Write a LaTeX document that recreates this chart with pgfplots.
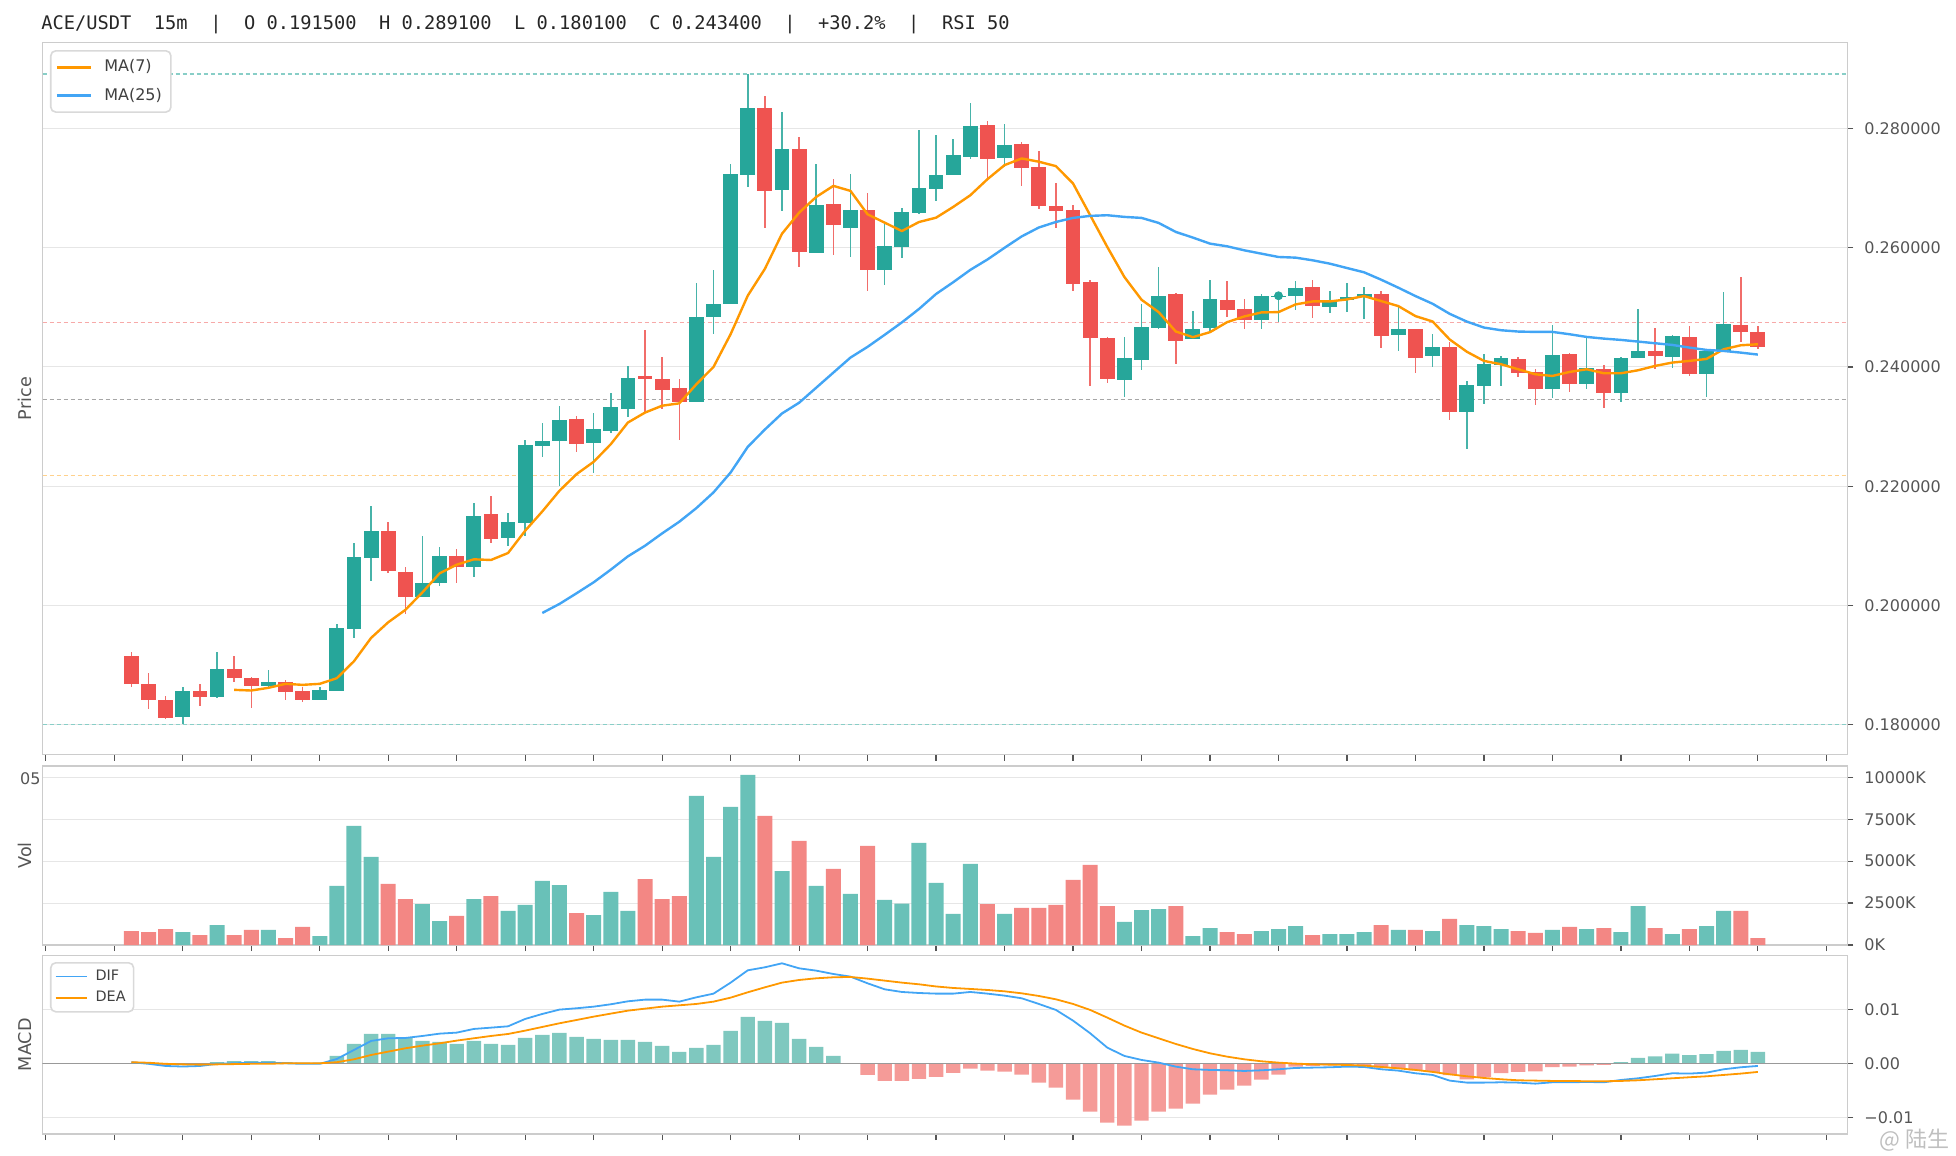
\documentclass[border=0pt]{standalone}
\usepackage{fontspec}
\setmainfont{DejaVu Sans}
\newfontfamily\monofont{DejaVu Sans Mono}
\newfontfamily\cjk{Noto Sans CJK SC}
\usepackage{pgfplots}
\usepackage{pgfplotstable}
\pgfplotsset{compat=1.18}

\definecolor{candleup}{HTML}{26A69A}
\definecolor{candledn}{HTML}{EF5350}
\definecolor{maseven}{HTML}{FF9800}
\definecolor{mablue}{HTML}{42A5F5}
\definecolor{volup}{HTML}{69C1B8}
\definecolor{voldn}{HTML}{F38784}
\definecolor{hup}{HTML}{7FC8BF}
\definecolor{hdn}{HTML}{F59B98}
\definecolor{gridc}{HTML}{E6E6E6}
\definecolor{framec}{HTML}{CCCCCC}
\definecolor{tickc}{HTML}{555555}

\pgfplotstableread{
i o h l c
3 0.18130 0.18643 0.18010 0.18576
5 0.18465 0.19229 0.18448 0.18939
8 0.18649 0.18922 0.18632 0.18727
11 0.18420 0.18632 0.18420 0.18593
12 0.18570 0.19692 0.18560 0.19620
13 0.19610 0.21048 0.19458 0.20819
14 0.20790 0.21673 0.20418 0.21255
17 0.20150 0.21171 0.20139 0.20384
18 0.20384 0.20987 0.20334 0.20836
20 0.20652 0.21724 0.20485 0.21506
22 0.21130 0.21556 0.21004 0.21405
23 0.21390 0.22778 0.21171 0.22694
24 0.22670 0.23068 0.22493 0.22761
25 0.22760 0.23347 0.22008 0.23113
27 0.22730 0.23236 0.22214 0.22960
28 0.22920 0.23565 0.22900 0.23330
29 0.23290 0.24020 0.23160 0.23820
33 0.23417 0.25403 0.23417 0.24842
34 0.24830 0.25633 0.24550 0.25055
35 0.25055 0.27400 0.25050 0.27231
36 0.27215 0.28910 0.27018 0.28337
38 0.26962 0.28269 0.26614 0.27647
40 0.25910 0.27394 0.25910 0.26710
42 0.26328 0.27226 0.25840 0.26626
44 0.25633 0.26390 0.25380 0.26020
45 0.26008 0.26659 0.25823 0.26592
46 0.26575 0.27972 0.26558 0.26996
47 0.26985 0.27888 0.26783 0.27215
48 0.27215 0.27820 0.27215 0.27551
49 0.27518 0.28426 0.27484 0.28039
51 0.27506 0.28079 0.27355 0.27720
58 0.23788 0.24494 0.23491 0.24158
59 0.24124 0.25048 0.23956 0.24662
60 0.24645 0.25670 0.24628 0.25182
62 0.24466 0.24930 0.24466 0.24639
63 0.24650 0.25451 0.24606 0.25132
66 0.24779 0.25216 0.24628 0.25182
67 0.25185 0.25193 0.24746 0.25193
68 0.25188 0.25448 0.24958 0.25317
70 0.25003 0.25266 0.24902 0.25121
71 0.25115 0.25401 0.24914 0.25166
72 0.25171 0.25334 0.24796 0.25227
74 0.24527 0.25003 0.24275 0.24639
76 0.24180 0.24555 0.23995 0.24342
78 0.23239 0.23771 0.22630 0.23704
79 0.23681 0.24212 0.23374 0.24050
80 0.24028 0.24184 0.23681 0.24151
83 0.23637 0.24704 0.23486 0.24201
85 0.23720 0.24492 0.23637 0.23983
87 0.23570 0.24168 0.23419 0.24151
88 0.24151 0.24967 0.24151 0.24268
90 0.24173 0.24537 0.23989 0.24520
92 0.23888 0.24296 0.23502 0.24268
93 0.24268 0.25258 0.24268 0.24727
}\upT

\pgfplotstableread{
i o h l c
0 0.19150 0.19229 0.18632 0.18688
1 0.18688 0.18866 0.18264 0.18420
2 0.18420 0.18492 0.18101 0.18113
4 0.18576 0.18677 0.18314 0.18465
6 0.18939 0.19162 0.18716 0.18783
7 0.18783 0.18811 0.18280 0.18649
9 0.18727 0.18744 0.18420 0.18549
10 0.18576 0.18632 0.18381 0.18420
15 0.21255 0.21405 0.20540 0.20585
16 0.20568 0.20640 0.19860 0.20150
19 0.20836 0.20948 0.20373 0.20641
21 0.21540 0.21835 0.21054 0.21110
26 0.23130 0.23180 0.22566 0.22700
30 0.23849 0.24617 0.23231 0.23792
31 0.23792 0.24168 0.23288 0.23613
32 0.23641 0.23792 0.22783 0.23417
37 0.28337 0.28544 0.26328 0.26951
39 0.27647 0.27849 0.25672 0.25924
41 0.26738 0.27147 0.25874 0.26379
43 0.26637 0.26923 0.25268 0.25633
50 0.28056 0.28123 0.27147 0.27490
52 0.27736 0.27776 0.27035 0.27338
53 0.27349 0.27624 0.26654 0.26698
54 0.26704 0.27075 0.26334 0.26614
55 0.26627 0.26711 0.25272 0.25395
56 0.25418 0.25462 0.23676 0.24482
57 0.24477 0.24510 0.23726 0.23805
61 0.25216 0.25244 0.24057 0.24432
64 0.25115 0.25434 0.24835 0.24953
65 0.24964 0.25132 0.24628 0.24779
69 0.25334 0.25451 0.24818 0.25026
73 0.25227 0.25277 0.24314 0.24527
75 0.24639 0.24640 0.23894 0.24158
77 0.24342 0.24426 0.23110 0.23239
81 0.24134 0.24168 0.23838 0.23905
82 0.23916 0.23972 0.23363 0.23637
84 0.24218 0.24235 0.23586 0.23720
86 0.23966 0.24028 0.23318 0.23570
89 0.24268 0.24648 0.23961 0.24184
91 0.24503 0.24688 0.23855 0.23888
94 0.24704 0.25509 0.24425 0.24581
95 0.24587 0.24688 0.24296 0.24340
}\dnT

\pgfplotstableread{
i ma7 ma25
0 nan nan
1 nan nan
2 nan nan
3 nan nan
4 nan nan
5 nan nan
6 0.18587 nan
7 0.18576 nan
8 0.18621 nan
9 0.18688 nan
10 0.18671 nan
11 0.18688 nan
12 0.18783 nan
13 0.19067 nan
14 0.19458 nan
15 0.19720 nan
16 0.19927 nan
17 0.20222 nan
18 0.20540 nan
19 0.20685 nan
20 0.20775 nan
21 0.20764 nan
22 0.20881 nan
23 0.21255 nan
24 0.21578 0.19876
25 0.21924 0.20027
26 0.22203 0.20206
27 0.22410 0.20390
28 0.22705 0.20602
29 0.23068 0.20825
30 0.23235 0.21003
31 0.23350 0.21210
32 0.23390 0.21405
33 0.23710 0.21634
34 0.24000 0.21897
35 0.24550 0.22231
36 0.25195 0.22660
37 0.25644 0.22951
38 0.26233 0.23220
39 0.26586 0.23400
40 0.26850 0.23652
41 0.27035 0.23905
42 0.26951 0.24157
43 0.26558 0.24337
44 0.26418 0.24539
45 0.26278 0.24746
46 0.26429 0.24971
47 0.26502 0.25223
48 0.26682 0.25420
49 0.26878 0.25627
50 0.27147 0.25801
51 0.27383 0.25997
52 0.27495 0.26188
53 0.27440 0.26337
54 0.27366 0.26430
55 0.27075 0.26498
56 0.26543 0.26532
57 0.26011 0.26543
58 0.25507 0.26515
59 0.25126 0.26498
60 0.24919 0.26414
61 0.24594 0.26263
62 0.24499 0.26168
63 0.24583 0.26067
64 0.24751 0.26022
65 0.24846 0.25955
66 0.24914 0.25899
67 0.24919 0.25843
68 0.25048 0.25832
69 0.25098 0.25787
70 0.25098 0.25731
71 0.25132 0.25658
72 0.25188 0.25586
73 0.25104 0.25462
74 0.25020 0.25328
75 0.24852 0.25188
76 0.24762 0.25059
77 0.24460 0.24890
78 0.24255 0.24760
79 0.24101 0.24660
80 0.24045 0.24615
81 0.23961 0.24593
82 0.23877 0.24587
83 0.23849 0.24587
84 0.23916 0.24548
85 0.23961 0.24503
86 0.23894 0.24475
87 0.23894 0.24453
88 0.23944 0.24425
89 0.24017 0.24397
90 0.24073 0.24369
91 0.24101 0.24324
92 0.24134 0.24285
93 0.24296 0.24268
94 0.24363 0.24240
95 0.24380 0.24207
}\maT

\pgfplotstableread{
i vu vd
0 nan 835
1 nan 775
2 nan 954
3 775 nan
4 nan 596
5 1193 nan
6 nan 596
7 nan 895
8 895 nan
9 nan 417
10 nan 1074
11 537 nan
12 3519 nan
13 7097 nan
14 5248 nan
15 nan 3638
16 nan 2743
17 2445 nan
18 1431 nan
19 nan 1730
20 2743 nan
21 nan 2922
22 2028 nan
23 2386 nan
24 3817 nan
25 3578 nan
26 nan 1908
27 1789 nan
28 3161 nan
29 2028 nan
30 nan 3936
31 nan 2743
32 nan 2922
33 8886 nan
34 5248 nan
35 8230 nan
36 10139 nan
37 nan 7694
38 4413 nan
39 nan 6203
40 3519 nan
41 nan 4533
42 3042 nan
43 nan 5904
44 2684 nan
45 2465 nan
46 6083 nan
47 3698 nan
48 1849 nan
49 4831 nan
50 nan 2445
51 1849 nan
52 nan 2207
53 nan 2207
54 nan 2386
55 nan 3877
56 nan 4771
57 nan 2326
58 1372 nan
59 2087 nan
60 2147 nan
61 nan 2326
62 537 nan
63 1014 nan
64 nan 775
65 nan 656
66 835 nan
67 954 nan
68 1133 nan
69 nan 596
70 656 nan
71 656 nan
72 775 nan
73 nan 1193
74 895 nan
75 nan 895
76 835 nan
77 nan 1551
78 1193 nan
79 1133 nan
80 954 nan
81 nan 835
82 nan 716
83 895 nan
84 nan 1074
85 954 nan
86 nan 1014
87 775 nan
88 2326 nan
89 nan 1014
90 656 nan
91 nan 954
92 1133 nan
93 2028 nan
94 nan 2028
95 nan 417
}\volT

\pgfplotstableread{
i dif dea hp hn
0 0.0002 0.0002 nan nan
1 -0.0001 0.0001 nan nan
2 -0.0005 -0.0001 nan -0.0003
3 -0.0006 -0.0002 nan -0.0001
4 -0.0005 -0.00025 nan nan
5 -0.0001 -0.0002 0.0002 nan
6 0 -0.00015 0.0004 nan
7 0.0001 -0.0001 0.0004 nan
8 0.0001 -0.0001 0.0004 nan
9 0 0 0.0002 nan
10 -0.0001 0 0.0001 nan
11 -0.0001 0 0.0001 nan
12 0.0008 0.0002 0.00136 nan
13 0.00247 0.00074 0.00358 nan
14 0.00414 0.00154 0.00543 nan
15 0.00463 0.00216 0.00543 nan
16 0.00469 0.00278 0.00469 nan
17 0.00506 0.00327 0.00414 nan
18 0.00549 0.0037 0.00395 nan
19 0.00568 0.0042 0.00358 nan
20 0.00636 0.00463 0.00414 nan
21 0.0066 0.00506 0.00358 nan
22 0.00685 0.00543 0.0034 nan
23 0.00821 0.00605 0.00469 nan
24 0.00914 0.00673 0.00525 nan
25 0.00994 0.00741 0.00562 nan
26 0.01019 0.00802 0.00488 nan
27 0.01049 0.00864 0.00451 nan
28 0.01093 0.0092 0.00432 nan
29 0.01148 0.00975 0.00432 nan
30 0.01179 0.01012 0.00395 nan
31 0.01179 0.01049 0.00321 nan
32 0.01142 0.01074 0.0021 nan
33 0.01222 0.01099 0.00284 nan
34 0.0129 0.01142 0.0034 nan
35 0.01494 0.01216 0.00599 nan
36 0.01722 0.01315 0.00858 nan
37 0.01778 0.01407 0.00784 nan
38 0.01852 0.01494 0.00747 nan
39 0.01759 0.01543 0.00451 nan
40 0.01716 0.01574 0.00302 nan
41 0.01654 0.01593 0.00136 nan
42 0.01605 0.01599 nan nan
43 0.01481 0.01568 nan -0.00216
44 0.0137 0.01531 nan -0.00327
45 0.01321 0.01494 nan -0.00327
46 0.01302 0.01463 nan -0.0029
47 0.0129 0.01423 nan -0.0025
48 0.0129 0.01395 nan -0.00176
49 0.01321 0.01377 nan -0.00099
50 0.0129 0.01358 nan -0.00136
51 0.01253 0.01333 nan -0.00154
52 0.01204 0.01296 nan -0.0021
53 0.01099 0.01247 nan -0.00358
54 0.00988 0.01185 nan -0.00451
55 0.0079 0.01099 nan -0.00673
56 0.00556 0.00988 nan -0.00895
57 0.0029 0.00846 nan -0.01099
58 0.00136 0.00698 nan -0.01154
59 0.00062 0.00568 nan -0.01062
60 0.00012 0.00463 nan -0.00895
61 -0.00062 0.00358 nan -0.0084
62 -0.00111 0.00265 nan -0.00747
63 -0.00123 0.00185 nan -0.0058
64 -0.0013 0.00123 nan -0.00488
65 -0.00142 0.00074 nan -0.00414
66 -0.0013 0.00037 nan -0.00302
67 -0.00111 0.00012 nan -0.0021
68 -0.00086 -0.00006 nan -0.0006
69 -0.0008 -0.00019 nan -0.0005
70 -0.00074 -0.00025 nan -0.0004
71 -0.00062 -0.00031 nan -0.0003
72 -0.00068 -0.00043 nan -0.0005
73 -0.00111 -0.00068 nan -0.0008
74 -0.00136 -0.00093 nan -0.001
75 -0.00185 -0.00123 nan -0.0013
76 -0.00216 -0.0016 nan -0.0016
77 -0.00321 -0.00204 nan -0.0022
78 -0.00358 -0.00241 nan -0.003
79 -0.00358 -0.00272 nan -0.0025
80 -0.00352 -0.00296 nan -0.0018
81 -0.00358 -0.00315 nan -0.0016
82 -0.00377 -0.00321 nan -0.0015
83 -0.00352 -0.00327 nan -0.0007
84 -0.00352 -0.00327 nan -0.0006
85 -0.00346 -0.00333 nan -0.0004
86 -0.00352 -0.00333 nan -0.0003
87 -0.00309 -0.00327 0.0002 nan
88 -0.00278 -0.00315 0.001 nan
89 -0.00235 -0.00296 0.0013 nan
90 -0.00185 -0.00278 0.0018 nan
91 -0.00191 -0.00259 0.0015 nan
92 -0.00173 -0.00241 0.0017 nan
93 -0.00111 -0.00216 0.0023 nan
94 -0.00074 -0.00191 0.0025 nan
95 -0.00049 -0.0016 0.0021 nan
}\macdT

\pgfplotsset{
  panel/.style={
    scale only axis, width=902.5pt,
    xmin=-5.2, xmax=100.23,
    axis line style={framec, line width=0.65pt},
    tick align=outside, xtick pos=left, ytick pos=right, yticklabel pos=right,
    major tick length=3pt, tick style={tickc, line width=0.6pt},
    xtick={-5,-1,...,99}, xticklabels={},
    scaled y ticks=false,
    ymajorgrids, grid style={gridc, line width=0.55pt},
    ticklabel style={font=\fontsize{8}{9}\selectfont, text=tickc},
    /pgf/number format/assume math mode=true,
    yticklabel style={xshift=2pt},
    ylabel style={font=\fontsize{8.8}{10}\selectfont, text=tickc,
      at={([xshift=-5pt]axis description cs:0,0.5)}, anchor=south, inner sep=0pt},
  },
  candle/.style n args={2}{forget plot, draw=none, mark=none,
    error bars/.cd, y dir=both, y explicit, error mark=none,
    error bar style={draw=#1, solid, line width=#2}},
  fib/.style={forget plot, no marks, line width=0.55pt, dash pattern=on 2pt off 1.5pt, draw=#1},
}

\begin{document}
\begin{tikzpicture}
\useasboundingbox (0,0) rectangle (978pt,-578pt);

\node[anchor=west, inner sep=0pt, font=\monofont\fontsize{9.35}{11}\selectfont, text=black!85]
  at (20.5pt,-12.5pt) {ACE/USDT~~15m~~|~~O 0.191500~~H 0.289100~~L 0.180100~~C 0.243400~~|~~+30.2\%~~|~~RSI 50};

% ---------------- price panel ----------------
\begin{axis}[panel, at={(21.2pt,-21.2pt)}, anchor=north west, height=356.15pt,
  ymin=0.1750, ymax=0.2944,
  ytick={0.18,0.2,0.22,0.24,0.26,0.28},
  ylabel={Price},
  legend cell align=left,
  legend style={at={(axis description cs:0.0042,0.9893)}, anchor=north west,
    draw=black!15, line width=0.8pt, rounded corners=2.5pt, fill=white,
    font=\fontsize{8}{9.6}\selectfont, text=black!75,
    inner xsep=2.5pt, inner ysep=2.5pt, row sep=2.5pt,
    /tikz/every odd column/.append style={column sep=4pt}},
  yticklabel style={/pgf/number format/.cd, fixed, fixed zerofill, precision=6},
]
\addplot[fib={candleup!55}] coordinates {(-6,0.2891) (101,0.2891)};
\addplot[fib={candledn!50}] coordinates {(-6,0.24746) (101,0.24746)};
\addplot[fib={black!35}] coordinates {(-6,0.2346) (101,0.2346)};
\addplot[fib={maseven!45}] coordinates {(-6,0.22174) (101,0.22174)};
\addplot[fib={candleup!55}] coordinates {(-6,0.1801) (101,0.1801)};

\addplot[candle={candleup!85}{0.75pt}]
  table[x=i, y expr={(\thisrow{h}+\thisrow{l})/2}, y error expr={(\thisrow{h}-\thisrow{l})/2}] {\upT};
\addplot[candle={candledn!85}{0.75pt}]
  table[x=i, y expr={(\thisrow{h}+\thisrow{l})/2}, y error expr={(\thisrow{h}-\thisrow{l})/2}] {\dnT};
\addplot[candle={candleup}{7.4pt}]
  table[x=i, y expr={(\thisrow{o}+\thisrow{c})/2}, y error expr={abs(\thisrow{c}-\thisrow{o})/2}] {\upT};
\addplot[candle={candledn}{7.4pt}]
  table[x=i, y expr={(\thisrow{o}+\thisrow{c})/2}, y error expr={abs(\thisrow{c}-\thisrow{o})/2}] {\dnT};
\addplot[forget plot, only marks, mark=*, mark size=2pt, color=candleup] coordinates {(67,0.25193)};

\addplot[maseven, line width=1.2pt, line join=round, mark=none] table[x=i, y=ma7] {\maT};
\addlegendentry{MA(7)}
\addplot[mablue, line width=1.2pt, line join=round, mark=none] table[x=i, y=ma25] {\maT};
\addlegendentry{MA(25)}
\end{axis}

% ---------------- volume panel ----------------
\begin{axis}[panel, at={(21.2pt,-383pt)}, anchor=north west, height=89.5pt,
  ymin=0, ymax=10674,
  ytick={0,2500,5000,7500,10000},
  yticklabels={0K,2500K,5000K,7500K,10000K},
  ylabel={Vol},
]
\addplot[ybar, bar width=7.5pt, bar shift=0pt, fill=volup, draw=none] table[x=i, y=vu] {\volT};
\addplot[ybar, bar width=7.5pt, bar shift=0pt, fill=voldn, draw=none] table[x=i, y=vd] {\volT};
\end{axis}
\node[anchor=east, inner sep=0pt, font=\fontsize{8}{9}\selectfont, text=tickc] at (20.5pt,-389.5pt) {05};

% ---------------- MACD panel ----------------
\begin{axis}[panel, at={(21.2pt,-477.65pt)}, anchor=north west, height=89.35pt,
  ymin=-0.0131, ymax=0.0200,
  ytick={-0.01,0,0.01},
  yticklabels={−0.01,0.00,0.01},
  ylabel={MACD},
  legend cell align=left,
  legend style={at={(axis description cs:0.0042,0.9625)}, anchor=north west,
    draw=black!15, line width=0.8pt, rounded corners=2.5pt, fill=white,
    font=\fontsize{7.2}{8.5}\selectfont, text=black!75,
    inner xsep=2pt, inner ysep=1.5pt, row sep=0pt,
    /tikz/every odd column/.append style={column sep=2pt}},
  legend image code/.code={\draw[#1] (0pt,0pt) -- (15.5pt,0pt);},
]
\addplot[forget plot, ybar, bar width=7.2pt, bar shift=0pt, fill=hup, draw=none] table[x=i, y=hp] {\macdT};
\addplot[forget plot, ybar, bar width=7.2pt, bar shift=0pt, fill=hdn, draw=none] table[x=i, y=hn] {\macdT};
\addplot[forget plot, no marks, black!40, line width=0.7pt] coordinates {(-6,0) (101,0)};
\addplot[mablue, line width=0.9pt, line join=round, mark=none] table[x=i, y=dif] {\macdT};
\addlegendentry{DIF}
\addplot[maseven, line width=0.9pt, line join=round, mark=none] table[x=i, y=dea] {\macdT};
\addlegendentry{DEA}
\end{axis}

\node[anchor=south east, inner sep=0pt, font=\cjk\fontsize{11}{12}\selectfont, text=black!25] at (975pt,-576pt) {@ 陆生};
\end{tikzpicture}
\end{document}
